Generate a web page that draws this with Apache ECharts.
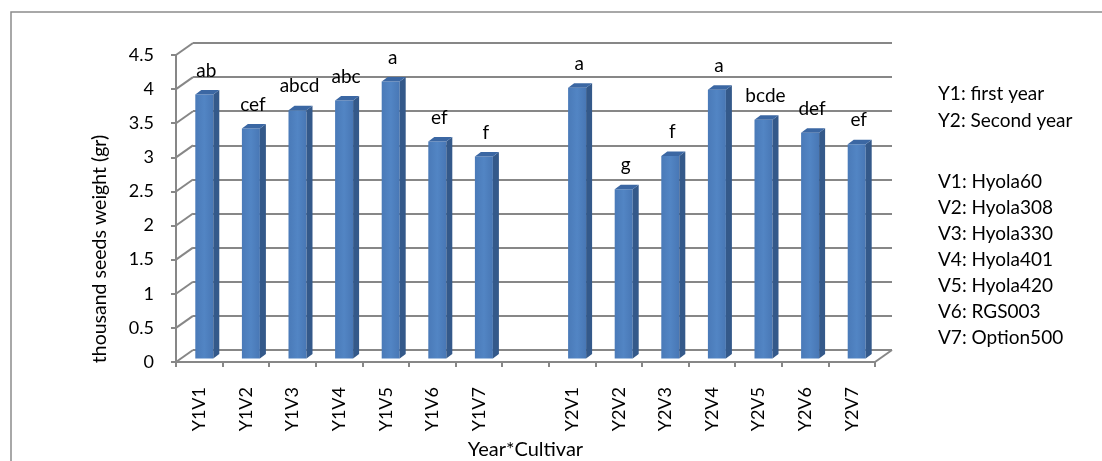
<!DOCTYPE html>
<html>
<head>
<meta charset="utf-8">
<script src="https://cdn.jsdelivr.net/npm/echarts@6/dist/echarts.min.js"></script>
<style>
  html, body { margin: 0; padding: 0; background: #fff; }
  #chart { width: 1102px; height: 461px; }
</style>
</head>
<body>
<div id="chart"></div>
<script>
// Thousand seed weight by year x cultivar, with mean-separation letters
const categories = ['Y1V1', 'Y1V2', 'Y1V3', 'Y1V4', 'Y1V5', 'Y1V6', 'Y1V7', '',
                    'Y2V1', 'Y2V2', 'Y2V3', 'Y2V4', 'Y2V5', 'Y2V6', 'Y2V7'];
const seedWeight = [3.87, 3.37, 3.64, 3.78, 4.06, 3.18, 2.96, null,
                    3.97, 2.48, 2.97, 3.94, 3.50, 3.31, 3.14];
const groupLetters = ['ab', 'cef', 'abcd', 'abc', 'a', 'ef', 'f', '',
                      'a', 'g', 'f', 'a', 'bcde', 'def', 'ef'];
const yTicks = [0, 0.5, 1, 1.5, 2, 2.5, 3, 3.5, 4, 4.5];
const yearNotes = ['Y1: first year', 'Y2: Second year'];
const cultivarNotes = ['V1: Hyola60', 'V2: Hyola308', 'V3: Hyola330', 'V4: Hyola401',
                       'V5: Hyola420', 'V6: RGS003', 'V7: Option500'];

const FONT = 'Lato, "Open Sans", sans-serif';
const GRID_COLOR = '#878787';
const DEPTH = [17, -12];      // wall depth of the pseudo-3D box
const BAR_DEPTH = [6, -4.5];  // depth of each column
const BAR_HALF = 9;

const chart = echarts.init(document.getElementById('chart'));

const plotW = 699, plotH = 307, plotLeft = 176, plotTop = 55;

function catAxis(idx, show) {
  return {
    type: 'category', gridIndex: idx, data: categories,
    axisLine: { show: show, lineStyle: { color: GRID_COLOR, width: 2 } },
    axisTick: { show: show, alignWithLabel: false, length: 5, lineStyle: { color: GRID_COLOR, width: 2 } },
    axisLabel: show ? { rotate: 90, margin: 25, color: '#000', fontFamily: FONT, fontSize: 18 } : { show: false },
    splitLine: { show: false }
  };
}
function valAxis(idx, opts) {
  return Object.assign({
    type: 'value', gridIndex: idx, min: 0, max: 4.5, interval: 0.5,
    axisLine: { show: false }, axisTick: { show: false },
    axisLabel: { show: false }, splitLine: { show: false }
  }, opts);
}
function gridBox(dx, dy) {
  return {
    left: plotLeft + dx, top: plotTop + dy, width: plotW, height: plotH,
    outerBoundsMode: 'none', containLabel: false
  };
}

const option = {
  animation: false,
  backgroundColor: '#fff',
  grid: [
    gridBox(0, 0),                 // front plane: axes, ticks and labels
    gridBox(DEPTH[0], DEPTH[1]),   // back wall: horizontal grid lines
    gridBox(5, -3.5)               // plane the columns stand on
  ],
  xAxis: [
    Object.assign(catAxis(0, true), {
      name: 'Year*Cultivar', nameLocation: 'middle', nameGap: 74,
      nameTextStyle: { color: '#000', fontFamily: FONT, fontSize: 20 }
    }),
    catAxis(1, false),
    catAxis(2, false)
  ],
  yAxis: [
    valAxis(0, {
      axisLine: { show: true, lineStyle: { color: GRID_COLOR, width: 2 } },
      axisTick: { show: true, length: 5, lineStyle: { color: GRID_COLOR, width: 2 } },
      axisLabel: { show: true, margin: 22, color: '#000', fontFamily: FONT, fontSize: 18 }
    }),
    valAxis(1, { splitLine: { show: true, lineStyle: { color: GRID_COLOR, width: 2 } } }),
    valAxis(2, {})
  ],
  graphic: [
    {
      type: 'rect', silent: true, z: -10,
      shape: { x: 11, y: 12, width: 1200, height: 600 },
      style: { fill: 'none', stroke: '#8c8c8c', lineWidth: 1.5 }
    },
    {
      type: 'text', x: 100, y: 249, rotation: Math.PI / 2,
      style: {
        text: 'thousand seeds weight (gr)', fill: '#000',
        font: '19.5px ' + FONT, align: 'center', verticalAlign: 'middle'
      }
    }
  ].concat(yearNotes.map((t, i) => ({
    type: 'text', left: 938, top: 84 + i * 27,
    style: { text: t, fill: '#000', font: '19px ' + FONT }
  }))).concat(cultivarNotes.map((t, i) => ({
    type: 'text', left: 938, top: 172 + i * 26,
    style: { text: t, fill: '#000', font: '19px ' + FONT }
  }))),
  series: [
    {
      // side wall and floor edges joining the front axis to the back wall
      type: 'custom', xAxisIndex: 0, yAxisIndex: 0, silent: true, z: 1,
      data: yTicks.map(v => [0, v]),
      renderItem: function (params, api) {
        const cs = params.coordSys;
        const v = api.value(1);
        const y = api.coord([0, v])[1];
        const children = [{
          type: 'line',
          shape: { x1: cs.x, y1: y, x2: cs.x + DEPTH[0], y2: y + DEPTH[1] },
          style: { stroke: GRID_COLOR, lineWidth: 2 }
        }];
        if (v === 0) {
          const xr = cs.x + cs.width;
          children.push({
            type: 'line',
            shape: { x1: xr, y1: y, x2: xr + DEPTH[0], y2: y + DEPTH[1] },
            style: { stroke: GRID_COLOR, lineWidth: 2 }
          });
        }
        return { type: 'group', children: children };
      }
    },
    {
      // columns with front, side and top faces, plus letter labels
      type: 'custom', xAxisIndex: 2, yAxisIndex: 2, z: 3,
      data: seedWeight.map((v, i) => [i, v]),
      renderItem: function (params, api) {
        const v = api.value(1);
        if (v == null || isNaN(v)) return null;
        const top = api.coord([api.value(0), v]);
        const base = api.coord([api.value(0), 0]);
        const cx = top[0], ty = top[1], by = base[1];
        const l = cx - BAR_HALF, r = cx + BAR_HALF;
        const dx = BAR_DEPTH[0], dy = BAR_DEPTH[1];
        const label = groupLetters[params.dataIndex];
        return {
          type: 'group',
          children: [
            {
              type: 'rect', shape: { x: l, y: ty, width: r - l, height: by - ty },
              style: {
                fill: new echarts.graphic.LinearGradient(0, 0, 1, 0, [
                  { offset: 0, color: '#4a7ab8' },
                  { offset: 0.5, color: '#5285c4' },
                  { offset: 1, color: '#4877b5' }
                ])
              }
            },
            {
              type: 'polygon',
              shape: { points: [[r, ty], [r + dx, ty + dy], [r + dx, by + dy], [r, by]] },
              style: { fill: '#34598a' }
            },
            {
              type: 'polygon',
              shape: { points: [[l, ty], [r, ty], [r + dx, ty + dy], [l + dx, ty + dy]] },
              style: { fill: '#3b67a3' }
            },
            {
              type: 'text',
              x: cx + 2, y: ty + dy - 10,
              style: {
                text: label, fill: '#000', font: '19px ' + FONT,
                align: 'center', verticalAlign: 'bottom'
              }
            }
          ]
        };
      }
    }
  ]
};

chart.setOption(option);
</script>
</body>
</html>
